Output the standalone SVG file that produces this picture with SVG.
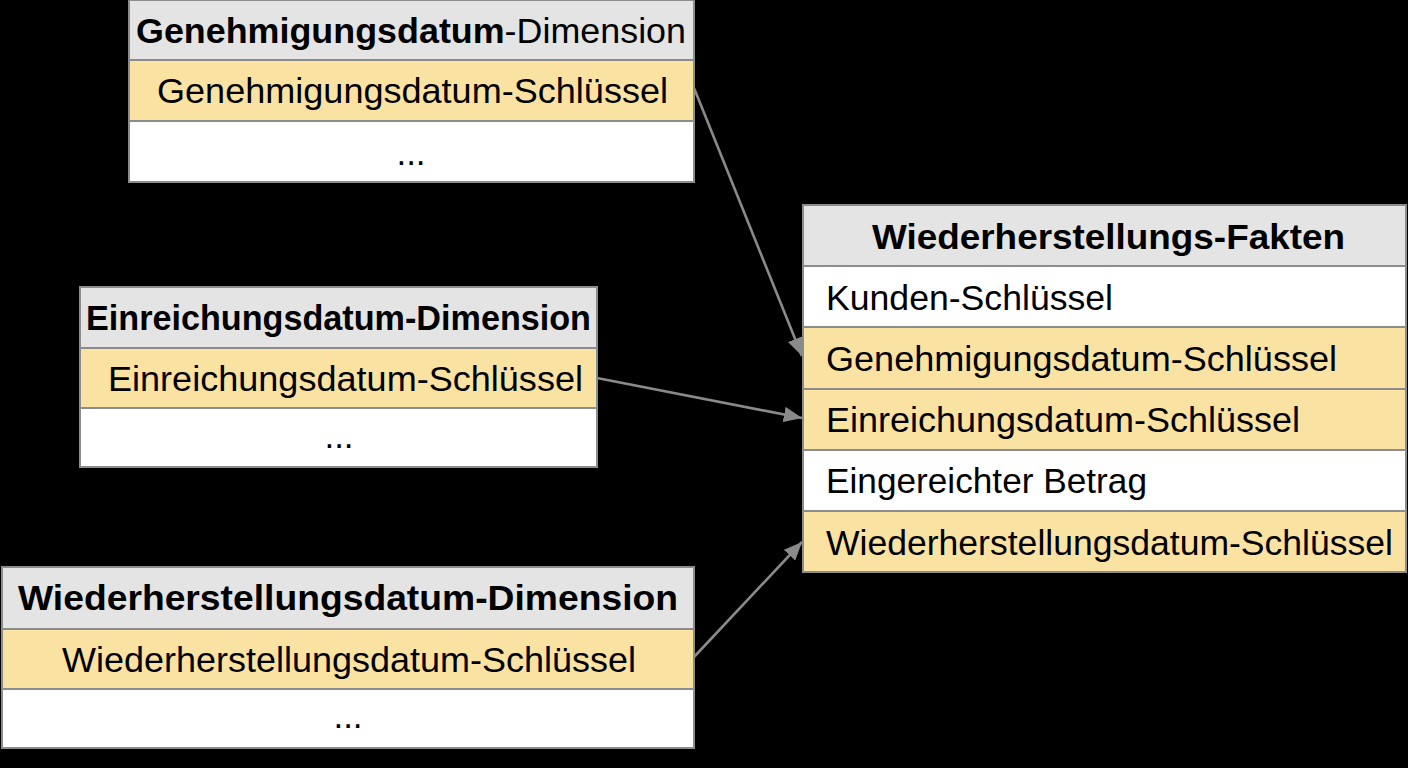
<svg xmlns="http://www.w3.org/2000/svg" width="1408" height="768" viewBox="0 0 1408 768">
<style>
.hdr{fill:#e4e4e4;stroke:#8c8c8c;stroke-width:2}
.key{fill:#fae3a2;stroke:#8c8c8c;stroke-width:2}
.plain{fill:#ffffff;stroke:#8c8c8c;stroke-width:2}
text{font-family:"Liberation Sans",Arial,sans-serif;font-size:35px;fill:#000}
.b{font-weight:bold}
.c{text-anchor:middle}
.conn{stroke:#8a8a8a;stroke-width:2.6;fill:none;marker-end:url(#ah)}
</style>
<defs>
<marker id="ah" markerWidth="7" markerHeight="6" refX="7" refY="3" orient="auto" markerUnits="strokeWidth">
<path d="M0,0 L7,3 L0,6 Z" fill="#8a8a8a"/>
</marker>
</defs>
<rect width="1408" height="768" fill="#000"/>

<g id="genehmigung-dim">
<rect class="hdr" x="129" y="0" width="565" height="60"/>
<rect class="key" x="129" y="60" width="565" height="61"/>
<rect class="plain" x="129" y="121" width="565" height="61"/>
<text x="136" y="43" textLength="550" lengthAdjust="spacingAndGlyphs"><tspan class="b">Genehmigungsdatum</tspan>-Dimension</text>
<text x="157" y="103" textLength="511" lengthAdjust="spacingAndGlyphs">Genehmigungsdatum-Schlüssel</text>
<text class="c" x="411" y="165">...</text>
</g>

<g id="einreichung-dim">
<rect class="hdr" x="80" y="287" width="517" height="61"/>
<rect class="key" x="80" y="348" width="517" height="60"/>
<rect class="plain" x="80" y="408" width="517" height="59"/>
<text class="b" x="86" y="330" textLength="505" lengthAdjust="spacingAndGlyphs">Einreichungsdatum-Dimension</text>
<text x="108" y="391" textLength="475" lengthAdjust="spacingAndGlyphs">Einreichungsdatum-Schlüssel</text>
<text class="c" x="339" y="448">...</text>
</g>

<g id="wiederherstellung-dim">
<rect class="hdr" x="2" y="567" width="692" height="62"/>
<rect class="key" x="2" y="629" width="692" height="60"/>
<rect class="plain" x="2" y="689" width="692" height="59"/>
<text class="b" x="18" y="610" textLength="660" lengthAdjust="spacingAndGlyphs">Wiederherstellungsdatum-Dimension</text>
<text x="62" y="672" textLength="574" lengthAdjust="spacingAndGlyphs">Wiederherstellungsdatum-Schlüssel</text>
<text class="c" x="348" y="728">...</text>
</g>

<g id="wiederherstellungs-fakten">
<rect class="hdr" x="803" y="205" width="603" height="61"/>
<rect class="plain" x="803" y="266" width="603" height="61"/>
<rect class="key" x="803" y="327" width="603" height="62"/>
<rect class="key" x="803" y="389" width="603" height="61"/>
<rect class="plain" x="803" y="450" width="603" height="61"/>
<rect class="key" x="803" y="511" width="603" height="61"/>
<text class="b" x="872" y="249" textLength="473" lengthAdjust="spacingAndGlyphs">Wiederherstellungs-Fakten</text>
<text x="826" y="310" textLength="287" lengthAdjust="spacingAndGlyphs">Kunden-Schlüssel</text>
<text x="826" y="371" textLength="511" lengthAdjust="spacingAndGlyphs">Genehmigungsdatum-Schlüssel</text>
<text x="826" y="432" textLength="474" lengthAdjust="spacingAndGlyphs">Einreichungsdatum-Schlüssel</text>
<text x="826" y="493" textLength="321" lengthAdjust="spacingAndGlyphs">Eingereichter Betrag</text>
<text x="826" y="555" textLength="567" lengthAdjust="spacingAndGlyphs">Wiederherstellungsdatum-Schlüssel</text>
</g>

<g id="connectors">
<path class="conn" d="M694,88 L802,356"/>
<path class="conn" d="M597,378 L802,418"/>
<path class="conn" d="M694,657 L802,542"/>
</g>
</svg>
